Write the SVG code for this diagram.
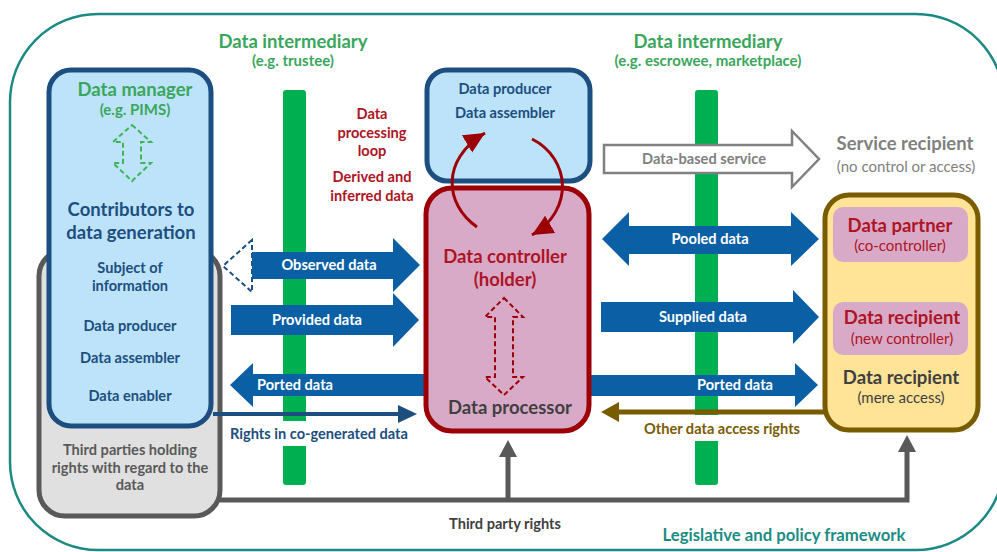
<svg xmlns="http://www.w3.org/2000/svg" width="997" height="552" viewBox="0 0 997 552">
  <style>
    text { font-family: Lato, "Open Sans", "Liberation Sans", sans-serif; font-weight: bold; text-anchor: middle; }
    .big { font-size: 18.5px; }
    .small { font-size: 14.6px; }
    .note { font-size: 15px; }
    .thin { font-weight: normal; font-size: 15px; }
    .green { fill: #3aa65c; }
    .navy { fill: #1c4e80; }
    .red { fill: #ad1424; }
    .dark { fill: #404040; }
    .grey { fill: #595959; }
    .lgrey { fill: #808080; }
    .white { fill: #ffffff; }
    .brown { fill: #7a5c00; }
    .teal { fill: #1b8c84; }
    .bar { fill: #00b050; }
    .flow { fill: #0b5fa4; }
    .box-blue { fill: #bde3fa; stroke: #1c4e80; stroke-width: 5; }
    .box-red { fill: #d9aac8; stroke: #9c0006; stroke-width: 5; }
    .box-grey { fill: #e0e0e0; stroke: #595959; stroke-width: 5; }
    .box-yellow { fill: #ffe396; stroke: #7a5c00; stroke-width: 5; }
    .inner-pink { fill: #d9aac8; }
  </style>
  <defs>
    <marker id="loopHead" markerUnits="userSpaceOnUse" markerWidth="24" markerHeight="22" refX="21" refY="10" orient="auto">
      <path d="M0,0 L21,10 L0,20 Z" fill="#9c0006"/>
    </marker>
  </defs>

  <!-- legislative and policy framework boundary -->
  <rect x="10" y="14" width="994" height="536" rx="88" ry="88" fill="#ffffff" stroke="#1b8a82" stroke-width="2.5"/>

  <!-- data intermediary bars -->
  <g id="intermediary-left">
    <rect class="bar" x="283" y="90" width="23" height="395" rx="3"/>
    <text class="big green" x="293" y="48">Data intermediary</text>
    <text class="note green" x="293" y="66">(e.g. trustee)</text>
  </g>
  <g id="intermediary-right">
    <rect class="bar" x="695" y="90" width="23" height="395" rx="3"/>
    <text class="big green" x="708" y="48">Data intermediary</text>
    <text class="note green" x="708" y="66">(e.g. escrowee, marketplace)</text>
  </g>

  <!-- third parties -->
  <g id="third-parties">
    <rect class="box-grey" x="39" y="250" width="181" height="266" rx="26"/>
    <text class="small grey" x="130" y="455">Third parties holding</text>
    <text class="small grey" x="130" y="473">rights with regard to the</text>
    <text class="small grey" x="130" y="490">data</text>
  </g>

  <g id="connectors">
    <!-- third party rights -->
    <g id="third-party-rights">
      <path d="M220,500 H907 V450 M508,500 V455" fill="none" stroke="#595959" stroke-width="5"/>
      <path d="M898,452 L907,435 L916,452 Z" fill="#595959"/>
      <path d="M499,457 L508,440 L517,457 Z" fill="#595959"/>
      <text class="small dark" x="505" y="529">Third party rights</text>
    </g>
  </g>

  <!-- contributors to data generation -->
  <g id="data-manager">
    <rect class="box-blue" x="49" y="70" width="162" height="356" rx="22"/>
    <text class="big green" x="135" y="96">Data manager</text>
    <text class="note green" x="135" y="115">(e.g. PIMS)</text>
    <polygon points="132,125 151,142 141,142 141,163 151,163 132,181 113,163 123,163 123,142 113,142" fill="none" stroke="#3cb55a" stroke-width="2" stroke-dasharray="5,3"/>
    <text class="big navy" x="131" y="216">Contributors to</text>
    <text class="big navy" x="131" y="239">data generation</text>
    <text class="small navy" x="130" y="273">Subject of</text>
    <text class="small navy" x="130" y="291">information</text>
    <text class="small navy" x="130" y="331">Data producer</text>
    <text class="small navy" x="130" y="363">Data assembler</text>
    <text class="small navy" x="130" y="401">Data enabler</text>
  </g>

  <g id="data-flows">
    <!-- observed data with dashed return head -->
    <polygon points="252,240 223,266 252,292" fill="none" stroke="#1c4e80" stroke-width="2" stroke-dasharray="5,3"/>
    <polygon class="flow" points="252,252 393,252 393,238 420,265 393,292 393,279 252,279"/>
    <text class="small white" x="329" y="270">Observed data</text>
    <!-- provided data -->
    <polygon class="flow" points="231,305 393,305 393,293 419,320 393,347 393,335 231,335"/>
    <text class="small white" x="317" y="325">Provided data</text>
    <!-- ported data, back to contributors -->
    <polygon class="flow" points="430,374 253,374 253,363 230,385 253,407 253,396 430,396"/>
    <text class="small white" x="295" y="390">Ported data</text>
    <!-- ported data, onward -->
    <polygon class="flow" points="585,375 795,375 795,363 818,385 795,407 795,396 585,396"/>
    <text class="small white" x="735" y="390">Ported data</text>
    <!-- pooled data -->
    <polygon class="flow" points="602,239 629,212 629,226 791,226 791,212 819,239 791,266 791,254 629,254 629,266"/>
    <text class="small white" x="710" y="244">Pooled data</text>
    <!-- supplied data -->
    <polygon class="flow" points="601,302 793,302 793,290 819,317 793,344 793,332 601,332"/>
    <text class="small white" x="703" y="322">Supplied data</text>
    <!-- data-based service -->
    <polygon points="604,145 792,145 792,131 819,159 792,187 792,173 604,173" fill="#ffffff" stroke="#808080" stroke-width="2.5"/>
    <text class="small lgrey" x="704" y="164">Data-based service</text>
  </g>

  <!-- rights in co-generated data -->
  <g id="rights-co-generated">
    <rect x="228" y="421" width="184" height="25" fill="#ffffff"/>
    <path d="M213,414 H400" fill="none" stroke="#1c4e80" stroke-width="4"/>
    <path d="M398,405 L417,414 L398,423 Z" fill="#1c4e80"/>
    <text class="small navy" x="319" y="439">Rights in co-generated data</text>
  </g>

  <!-- other data access rights -->
  <g id="other-access-rights">
    <rect x="633" y="415" width="184" height="26" fill="#ffffff"/>
    <path d="M826,412 H615" fill="none" stroke="#7a5c00" stroke-width="5"/>
    <path d="M619,402 L601,412 L619,422 Z" fill="#7a5c00"/>
    <text class="small brown" x="722" y="434">Other data access rights</text>
  </g>

  <!-- producer / assembler -->
  <g id="producer-assembler">
    <rect class="box-blue" x="427" y="70" width="163" height="111" rx="20"/>
    <text class="small navy" x="505" y="94">Data producer</text>
    <text class="small navy" x="505" y="118">Data assembler</text>
  </g>

  <!-- data controller -->
  <g id="data-controller">
    <rect class="box-red" x="426" y="188" width="163" height="243" rx="26"/>
    <text class="big red" x="505" y="263">Data controller</text>
    <text class="big red" x="505" y="286">(holder)</text>
    <polygon points="504,298 523,317 513,317 513,377 523,377 504,395 485,377 495,377 495,317 485,317" fill="none" stroke="#9c0006" stroke-width="2" stroke-dasharray="5,3"/>
    <text class="big dark" x="510" y="414">Data processor</text>
  </g>

  <!-- data processing loop -->
  <g id="processing-loop">
    <path d="M477,227 C445,205 440,160 485,133" fill="none" stroke="#9c0006" stroke-width="3" marker-end="url(#loopHead)"/>
    <path d="M532,139 C570,158 575,210 532,235" fill="none" stroke="#9c0006" stroke-width="3" marker-end="url(#loopHead)"/>
    <text class="small red" x="372" y="119">Data</text>
    <text class="small red" x="372" y="138">processing</text>
    <text class="small red" x="372" y="156">loop</text>
    <text class="small red" x="372" y="182">Derived and</text>
    <text class="small red" x="372" y="201">inferred data</text>
  </g>

  <!-- service recipient -->
  <g id="service-recipient">
    <text class="big lgrey" x="905" y="150">Service recipient</text>
    <text class="lgrey thin" x="906" y="172">(no control or access)</text>
  </g>

  <!-- data recipients -->
  <g id="data-recipients">
    <rect class="box-yellow" x="825" y="195" width="153" height="235" rx="24"/>
    <rect class="inner-pink" x="833" y="207" width="135" height="55" rx="10"/>
    <text class="big red" x="900" y="232">Data partner</text>
    <text class="red thin" x="900" y="251">(co-controller)</text>
    <rect class="inner-pink" x="833" y="302" width="135" height="53" rx="10"/>
    <text class="big red" x="902" y="324">Data recipient</text>
    <text class="red thin" x="902" y="344">(new controller)</text>
    <text class="big dark" x="901" y="384">Data recipient</text>
    <text class="dark thin" x="901" y="403">(mere access)</text>
  </g>

  <text class="teal" x="784" y="541" style="font-size:16.7px">Legislative and policy framework</text>
</svg>
